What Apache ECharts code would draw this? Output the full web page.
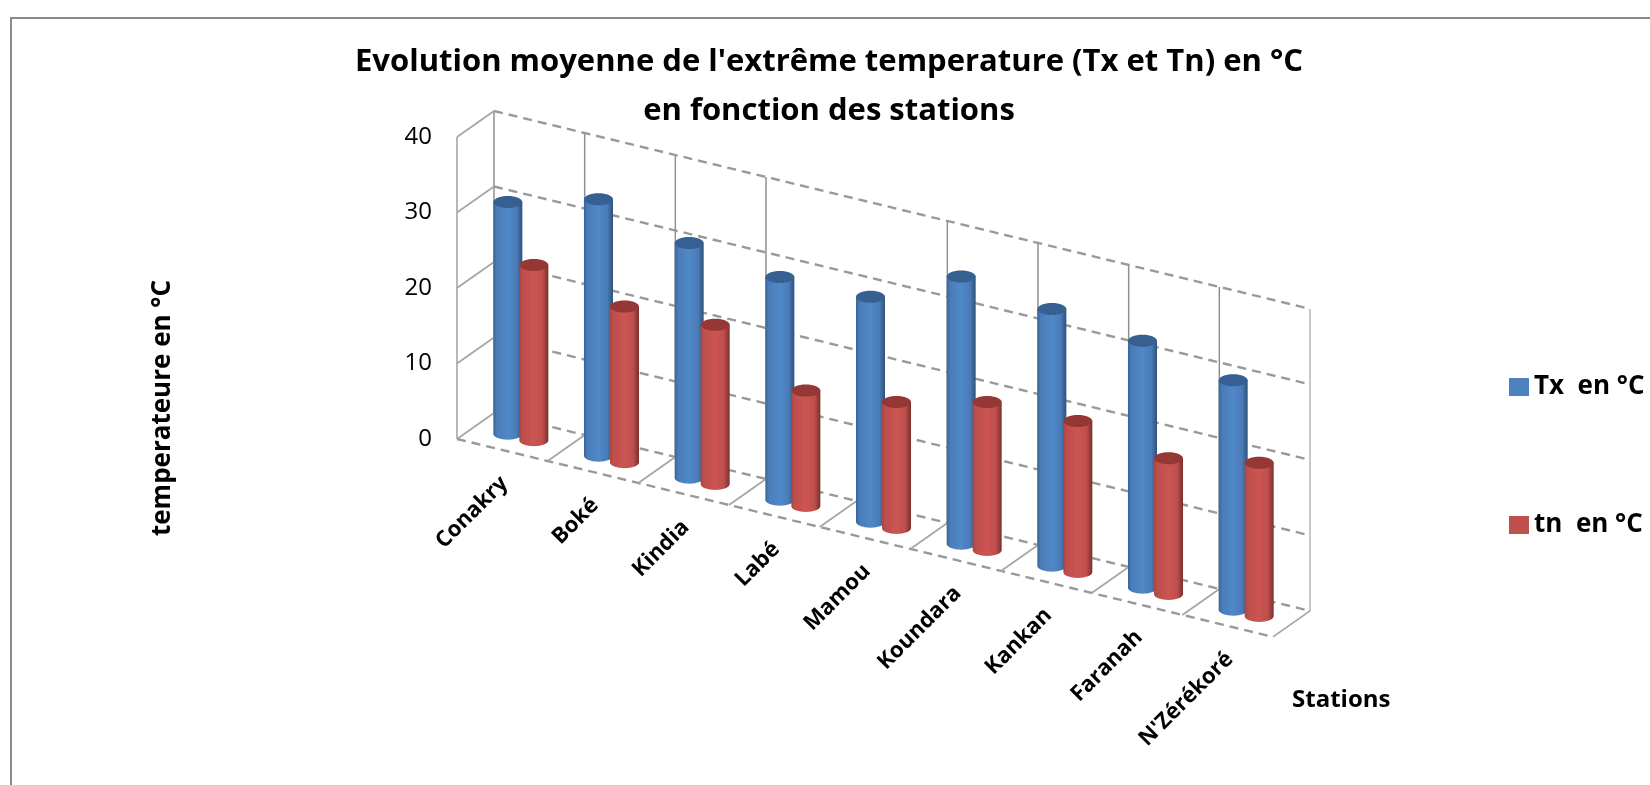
<!DOCTYPE html>
<html><head><meta charset="utf-8">
<style>html,body{margin:0;padding:0;background:#fff}#c{width:1650px;height:785px}</style>
<script src="https://cdn.jsdelivr.net/npm/echarts@6/dist/echarts.min.js"></script>
</head><body><div id="c"></div>
<script>
const categories = ['Conakry','Boké','Kindia','Labé','Mamou','Koundara','Kankan','Faranah',"N'Zérékoré"];
const txValues = [30.7,34,31.1,29.5,29.8,35.4,34,32.7,30.4];
const tnValues = [23.2,20.6,21.1,15.3,16.7,19.6,20,18,20.3];
const yTicks = [0,10,20,30,40];
const FONT = '"Open Sans"';
const SLOPE = 0.2425, DX = 37, DY = -26, X0 = 457;
// oblique projection applied on top of the grid's own scales: t=0 front plane, t=1 back wall
function proj(p, t){ return [p[0] + DX*t, p[1] + SLOPE*(p[0]-X0) + DY*t]; }

function cylinderItem(colors, side){
  return function(params, api){
    const i = api.value(0), v = api.value(1);
    const base = proj(api.coord([i,0]), .5), top = proj(api.coord([i,v]), .5);
    const shift = side*13, rx = 14.5, ry = 6;
    const x = base[0]+shift, yb = base[1]+SLOPE*shift, yt = top[1]+SLOPE*shift;
    const fill = new echarts.graphic.LinearGradient(0,0,1,0,[
      {offset:0,color:colors[0]},{offset:.12,color:colors[1]},{offset:.5,color:colors[2]},
      {offset:.8,color:colors[1]},{offset:1,color:colors[3]}]);
    return {type:'group',children:[
      {type:'path',shape:{pathData:`M${x-rx} ${yt}L${x-rx} ${yb}A${rx} ${ry} 0 0 0 ${x+rx} ${yb}L${x+rx} ${yt}Z`,layout:'cover',x:x-rx,y:yt,width:2*rx,height:yb+ry-yt},style:{fill}},
      {type:'ellipse',shape:{cx:x,cy:yt,rx,ry},style:{fill:colors[4]}}
    ]};
  };
}

function wallItem(params, api){
  const v = api.value(0), kids = [];
  const n = categories.length, bw = api.size([1,0])[0];
  const c0 = api.coord([0,v]);
  const left = [c0[0]-bw/2, c0[1]], right = [left[0]+bw*n, left[1]];
  const fl = left, bl = proj(left,1), br = proj(right,1);
  const line = (a,b,style)=>({type:'line',shape:{x1:a[0],y1:a[1],x2:b[0],y2:b[1]},style});
  kids.push(line(fl,bl,{stroke:'#a6a6a6',lineWidth:1.8}));
  kids.push(line(bl,br,{stroke:'#999999',lineWidth:2.4,lineDash:[9,6]}));
  if(v===0){
    const fr = proj(right,0);
    kids.push(line(fl,fr,{stroke:'#999999',lineWidth:2.4,lineDash:[9,6]}));
    kids.push(line(fr,br,{stroke:'#a6a6a6',lineWidth:1.8}));
    for(let k=1;k<n;k++){
      const c = [left[0]+bw*k,left[1]];
      kids.push(line(proj(c,0),proj(c,1),{stroke:'#a6a6a6',lineWidth:1.8}));
    }
    const topY = api.coord([0,yTicks[yTicks.length-1]])[1];
    kids.push(line(left,[left[0],topY],{stroke:'#a6a6a6',lineWidth:1.6}));
    for(let k=0;k<=n;k++){
      if(k===4) continue;
      const c = [left[0]+bw*k,left[1]], d = [c[0],topY];
      kids.push(line(proj(c,1),proj(d,1),{stroke:k===n?'#b5b5b5':'#8f8f8f',lineWidth:1.5}));
    }
  }
  return {type:'group',children:kids};
}

function labelItem(params, api){
  const i = api.value(0);
  const p = proj(api.coord([i,0]),0);
  return {type:'text',x:p[0]+2,y:p[1]+30,rotation:Math.PI/4,
    style:{text:categories[i],align:'right',verticalAlign:'middle',font:`bold 22px ${FONT}`,fill:'#000'}};
}

const chart = echarts.init(document.getElementById('c'),null,{renderer:'canvas'});
chart.setOption({
  animation:false,
  backgroundColor:'#fff',
  title:{text:"Evolution moyenne de l'extrême temperature (Tx et Tn) en °C\nen fonction des stations",
    left:824,top:33,textAlign:'center',
    textStyle:{fontFamily:FONT,fontWeight:'bold',fontSize:31,lineHeight:49,color:'#000'}},
  grid:{left:X0,top:137,width:816,height:302,containLabel:false},
  xAxis:{type:'category',data:categories,show:false},
  yAxis:{type:'value',min:0,max:40,interval:10,
    axisLine:{show:false},axisTick:{show:false},splitLine:{show:false},
    axisLabel:{fontFamily:FONT,fontSize:24,color:'#000',margin:25,padding:[8,0,0,0]}},
  legend:{orient:'vertical',left:1509,top:374,padding:0,itemWidth:20,itemHeight:18,itemGap:112,icon:'rect',
    textStyle:{fontFamily:FONT,fontWeight:'bold',fontSize:26,color:'#000',padding:0},
    data:['Tx  en °C','tn  en °C']},
  graphic:[
    {type:'polyline',silent:true,shape:{points:[[11,785],[11,18],[1650,18]]},style:{fill:null,stroke:'#8a8a8a',lineWidth:2}},
    {type:'text',x:163,y:408,rotation:Math.PI/2,silent:true,
      style:{text:'temperateure en °C',align:'center',verticalAlign:'middle',font:`bold 26px ${FONT}`,fill:'#000'}},
    {type:'text',x:1292,y:700,silent:true,
      style:{text:'Stations',align:'left',verticalAlign:'middle',font:`bold 24px ${FONT}`,fill:'#000'}}
  ],
  series:[
    {type:'custom',name:'walls',silent:true,z:1,clip:false,renderItem:wallItem,data:yTicks.map(v=>[v]),encode:{y:0},legendHoverLink:false},
    {type:'custom',name:'Tx  en °C',z:2,clip:false,renderItem:cylinderItem(['#39659b','#4a7cb8','#5088c8','#2e5279','#376092'],-1),
      itemStyle:{color:'#4F81BD'},data:txValues.map((v,i)=>[i,v]),encode:{x:0,y:1}},
    {type:'custom',name:'tn  en °C',z:3,clip:false,renderItem:cylinderItem(['#a84643','#bd4f4c','#cc5552','#7a2e2c','#953735'],1),
      itemStyle:{color:'#C0504D'},data:tnValues.map((v,i)=>[i,v]),encode:{x:0,y:1}},
    {type:'custom',name:'labels',silent:true,z:4,clip:false,renderItem:labelItem,data:categories.map((c,i)=>[i]),encode:{x:0}}
  ]
});
</script></body></html>
